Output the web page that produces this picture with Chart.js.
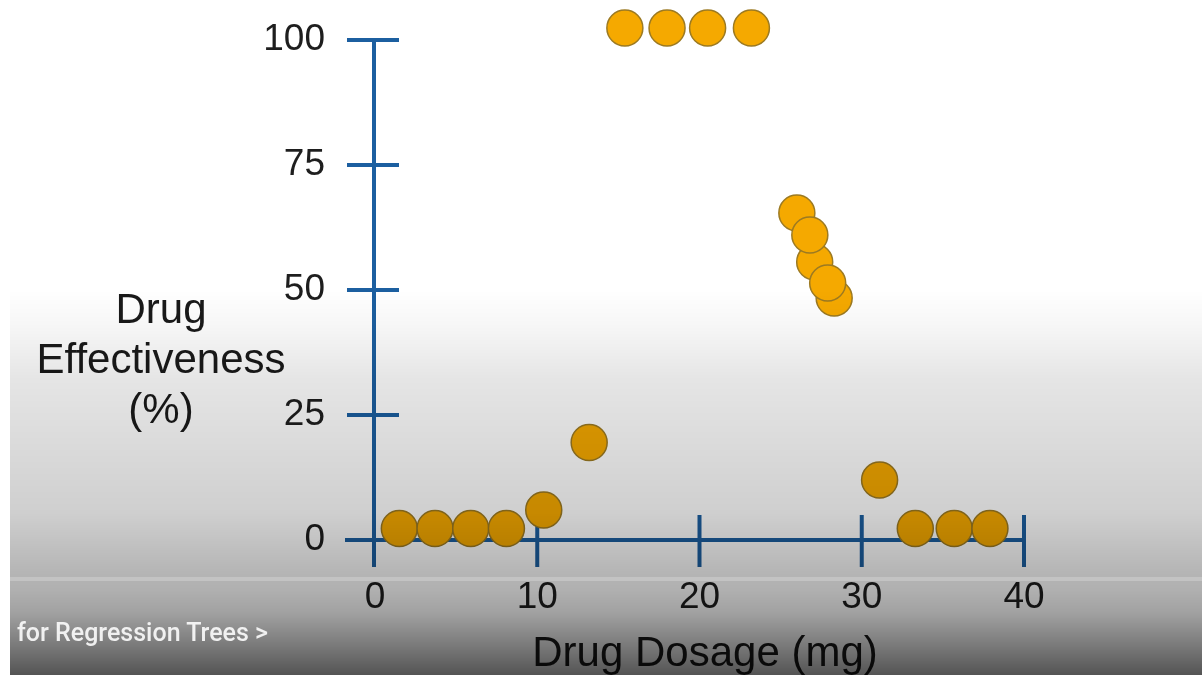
<!DOCTYPE html>
<html><head><meta charset="utf-8">
<script src="https://cdn.jsdelivr.net/npm/chart.js@4.4.1/dist/chart.umd.min.js"></script>
<style>
html,body{margin:0;padding:0;background:#fff;}
#wrap{position:relative;width:1202px;height:675px;overflow:hidden;background:#fff;}
#c{position:absolute;left:0;top:0;}
#shade{position:absolute;left:10px;top:0;width:1192px;height:675px;pointer-events:none;
background:linear-gradient(to bottom, rgba(0,0,0,0) 0px, rgba(0,0,0,0) 290px, rgba(0,0,0,0.03) 323px, rgba(0,0,0,0.1) 380px, rgba(0,0,0,0.145) 447px, rgba(0,0,0,0.19) 513px, rgba(0,0,0,0.29) 572px, rgba(0,0,0,0.31) 590px, rgba(0,0,0,0.37) 613px, rgba(0,0,0,0.53) 647px, rgba(0,0,0,0.67) 675px);}
#band{position:absolute;left:10px;top:577px;width:1192px;height:4px;background:rgba(255,255,255,0.2);pointer-events:none;}
#cap{position:absolute;left:17px;top:620px;font:500 25px/25px Roboto,"Noto Sans",sans-serif;color:rgba(255,255,255,0.88);white-space:nowrap;pointer-events:none;}
</style>
</head><body>
<div id="wrap">
<canvas id="c" width="1202" height="675"></canvas>
<div id="shade"></div>
<div id="band"></div>
<div id="cap">for Regression Trees &gt;</div>
</div>
<script>
// Data
const dosage = [1.5, 3.7, 5.9, 8.1, 10.4, 13.2, 15.4, 18.0, 20.5, 23.2, 26.0, 27.1, 26.8, 28.3, 27.9, 31.1, 33.3, 35.7, 37.9];
const effectiveness = [2.3, 2.3, 2.3, 2.3, 6.0, 19.5, 102.4, 102.4, 102.4, 102.4, 65.4, 55.6, 61.0, 48.4, 51.4, 12.0, 2.3, 2.3, 2.3];
const xTicks = [0, 10, 20, 30, 40];
const yTicks = [0, 25, 50, 75, 100];
const xTitle = "Drug Dosage (mg)";
const yTitleLines = ["Drug", "Effectiveness", "(%)"];

const AXIS = '#1c5fa0';
const FONT = '"Liberation Sans", Arial, Helvetica, sans-serif';

const points = dosage.map((x, i) => ({x: x, y: effectiveness[i]}));

const axesPlugin = {
  id: 'axesPlugin',
  beforeDatasetsDraw(chart) {
    const ctx = chart.ctx;
    const xs = chart.scales.x, ys = chart.scales.y;
    const x0 = xs.getPixelForValue(0), y0 = ys.getPixelForValue(0);
    ctx.save();
    ctx.strokeStyle = AXIS;
    ctx.lineWidth = 4;
    ctx.lineCap = 'butt';
    ctx.beginPath();
    ctx.moveTo(x0 - 30, y0);
    ctx.lineTo(xs.getPixelForValue(40) + 2, y0);
    ctx.stroke();
    ctx.beginPath();
    ctx.moveTo(x0 - 1, ys.getPixelForValue(100) - 2);
    ctx.lineTo(x0 - 1, y0 + 27);
    ctx.stroke();
    yTicks.forEach(v => {
      const py = ys.getPixelForValue(v);
      ctx.beginPath();
      ctx.moveTo(x0 - 28, py);
      ctx.lineTo(x0 + 24, py);
      ctx.stroke();
    });
    xTicks.forEach(v => {
      if (v === 0) return;
      const px = xs.getPixelForValue(v);
      ctx.beginPath();
      ctx.moveTo(px, y0 - 25);
      ctx.lineTo(px, y0 + 27);
      ctx.stroke();
    });
    ctx.restore();
  },
  afterDraw(chart) {
    const ctx = chart.ctx;
    ctx.save();
    ctx.fillStyle = '#1a1a1a';
    ctx.textAlign = 'center';
    ctx.textBaseline = 'alphabetic';
    ctx.font = '42px ' + FONT;
    const base = [323, 373, 423];
    yTitleLines.forEach((t, i) => ctx.fillText(t, 161, base[i]));
    ctx.font = '42px ' + FONT;
    ctx.fillText(xTitle, 705, 666);
    ctx.restore();
  }
};

new Chart(document.getElementById('c'), {
  type: 'scatter',
  data: {
    datasets: [{
      data: points,
      backgroundColor: '#f5a900',
      borderColor: '#9c7a22',
      borderWidth: 1.5,
      pointRadius: 18,
      pointHoverRadius: 18,
      clip: false
    }]
  },
  options: {
    responsive: false,
    animation: false,
    events: [],
    layout: {padding: {left: 0, top: 40, right: 178, bottom: 0}},
    plugins: {legend: {display: false}, tooltip: {enabled: false}},
    scales: {
      x: {
        type: 'linear', min: 0, max: 40,
        afterBuildTicks(s) { s.ticks = xTicks.map(v => ({value: v})); },
        afterFit(s) { s.height = 135; s.paddingLeft = 0; s.paddingRight = 0; },
        grid: {display: false, drawTicks: false},
        border: {display: false},
        ticks: {padding: 36, color: '#1e1e1e', font: {family: FONT, size: 37}, maxRotation: 0, autoSkip: false}
      },
      y: {
        type: 'linear', min: 0, max: 100,
        afterBuildTicks(s) { s.ticks = yTicks.map(v => ({value: v})); },
        afterFit(s) { s.width = 375; s.paddingTop = 0; s.paddingBottom = 0; },
        grid: {display: false, drawTicks: false},
        border: {display: false},
        ticks: {padding: 50, color: '#1e1e1e', font: {family: FONT, size: 37}, autoSkip: false}
      }
    }
  },
  plugins: [axesPlugin]
});
</script>
</body></html>
